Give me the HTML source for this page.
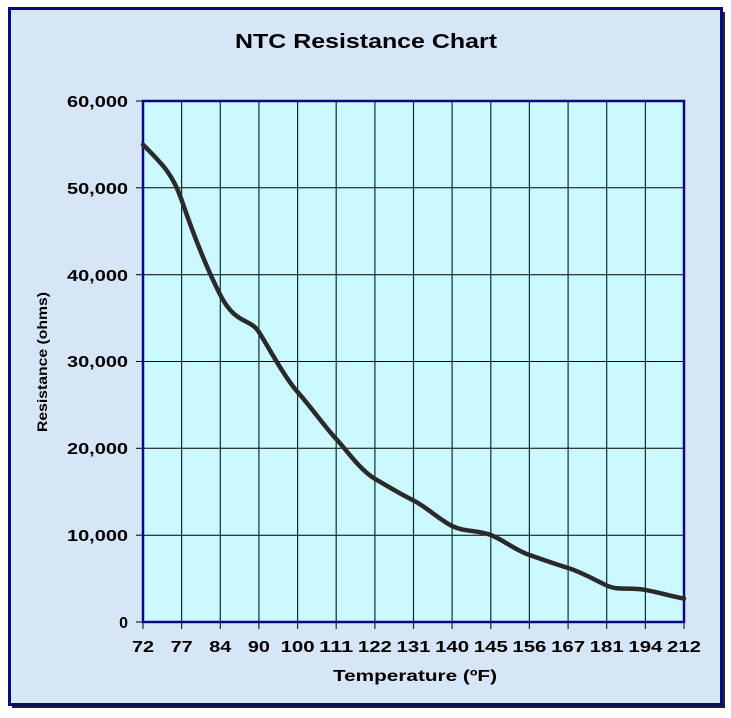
<!DOCTYPE html>
<html><head><style>
body{margin:0;background:#fff;}
svg text{font-family:"Liberation Sans",Arial,sans-serif;font-weight:bold;fill:#000;}
</style></head><body>
<svg width="731" height="713" viewBox="0 0 731 713" xmlns="http://www.w3.org/2000/svg">
<rect x="0" y="0" width="731" height="713" fill="#fff"/>
<rect x="9.5" y="8.5" width="712" height="696" fill="#d6e6f6" stroke="#0a0a80" stroke-width="3"/>
<line x1="724" y1="12" x2="724" y2="708" stroke="#222" stroke-width="2"/>
<line x1="12" y1="707" x2="724" y2="707" stroke="#222" stroke-width="2"/>
<text x="235" y="48" font-size="20" textLength="262" lengthAdjust="spacingAndGlyphs">NTC Resistance Chart</text>
<rect x="143" y="101" width="541" height="521" fill="#ccf8ff"/>
<g stroke="#000" stroke-width="1">
<line x1="143" y1="187.8" x2="684" y2="187.8"/>
<line x1="143" y1="274.7" x2="684" y2="274.7"/>
<line x1="143" y1="361.5" x2="684" y2="361.5"/>
<line x1="143" y1="448.3" x2="684" y2="448.3"/>
<line x1="143" y1="535.2" x2="684" y2="535.2"/>
<line x1="136" y1="101" x2="143" y2="101"/><line x1="136" y1="187.8" x2="143" y2="187.8"/><line x1="136" y1="274.7" x2="143" y2="274.7"/><line x1="136" y1="361.5" x2="143" y2="361.5"/><line x1="136" y1="448.3" x2="143" y2="448.3"/><line x1="136" y1="535.2" x2="143" y2="535.2"/><line x1="136" y1="622" x2="143" y2="622"/>
</g>
<g stroke="#0a3030" stroke-width="1.2">
<line x1="181.6" y1="101" x2="181.6" y2="629"/><line x1="220.3" y1="101" x2="220.3" y2="629"/><line x1="258.9" y1="101" x2="258.9" y2="629"/><line x1="297.6" y1="101" x2="297.6" y2="629"/><line x1="336.2" y1="101" x2="336.2" y2="629"/><line x1="374.9" y1="101" x2="374.9" y2="629"/><line x1="413.5" y1="101" x2="413.5" y2="629"/><line x1="452.1" y1="101" x2="452.1" y2="629"/><line x1="490.8" y1="101" x2="490.8" y2="629"/><line x1="529.4" y1="101" x2="529.4" y2="629"/><line x1="568.1" y1="101" x2="568.1" y2="629"/><line x1="606.7" y1="101" x2="606.7" y2="629"/><line x1="645.4" y1="101" x2="645.4" y2="629"/>
<line x1="143" y1="622" x2="143" y2="629"/><line x1="684" y1="622" x2="684" y2="629"/>
</g>
<rect x="143" y="101" width="541" height="521" fill="none" stroke="#0a0a80" stroke-width="2.5"/>
<path d="M143,144.6 C160,162 172,172 181.6,200 S205,265 220.3,295 S250,318 258.9,332 S285,378 297.6,392 S325,427 336.2,439 S360,470 374.9,478.8 S402,495 413.5,500.5 S440,520 452.1,526 S478,530 490.8,535 S515,550 529.4,555 S555,564 568.1,568 S595,580 606.7,585.5 S630,587 645.4,589.9 S670,596 684,598.5" fill="none" stroke="#2a2a2a" stroke-width="4.5" stroke-linecap="round"/>
<g font-size="16" text-anchor="end">
<text x="128" y="107" textLength="61" lengthAdjust="spacingAndGlyphs">60,000</text><text x="128" y="194" textLength="61" lengthAdjust="spacingAndGlyphs">50,000</text><text x="128" y="281" textLength="61" lengthAdjust="spacingAndGlyphs">40,000</text><text x="128" y="367" textLength="61" lengthAdjust="spacingAndGlyphs">30,000</text><text x="128" y="454" textLength="61" lengthAdjust="spacingAndGlyphs">20,000</text><text x="128" y="541" textLength="61" lengthAdjust="spacingAndGlyphs">10,000</text><text x="128" y="628">0</text>
</g>
<g font-size="16" text-anchor="middle">
<text x="143" y="652" textLength="22" lengthAdjust="spacingAndGlyphs">72</text><text x="181.6" y="652" textLength="22" lengthAdjust="spacingAndGlyphs">77</text><text x="220.3" y="652" textLength="22" lengthAdjust="spacingAndGlyphs">84</text><text x="258.9" y="652" textLength="22" lengthAdjust="spacingAndGlyphs">90</text><text x="297.6" y="652" textLength="34" lengthAdjust="spacingAndGlyphs">100</text><text x="336.2" y="652" textLength="34" lengthAdjust="spacingAndGlyphs">111</text><text x="374.9" y="652" textLength="34" lengthAdjust="spacingAndGlyphs">122</text><text x="413.5" y="652" textLength="34" lengthAdjust="spacingAndGlyphs">131</text><text x="452.1" y="652" textLength="34" lengthAdjust="spacingAndGlyphs">140</text><text x="490.8" y="652" textLength="34" lengthAdjust="spacingAndGlyphs">145</text><text x="529.4" y="652" textLength="34" lengthAdjust="spacingAndGlyphs">156</text><text x="568.1" y="652" textLength="34" lengthAdjust="spacingAndGlyphs">167</text><text x="606.7" y="652" textLength="34" lengthAdjust="spacingAndGlyphs">181</text><text x="645.4" y="652" textLength="34" lengthAdjust="spacingAndGlyphs">194</text><text x="684" y="652" textLength="34" lengthAdjust="spacingAndGlyphs">212</text>
</g>
<text x="333" y="681" font-size="16" textLength="164" lengthAdjust="spacingAndGlyphs">Temperature (ºF)</text>
<text transform="translate(47,432) rotate(-90)" font-size="14" textLength="140" lengthAdjust="spacingAndGlyphs">Resistance (ohms)</text>
</svg>
</body></html>
